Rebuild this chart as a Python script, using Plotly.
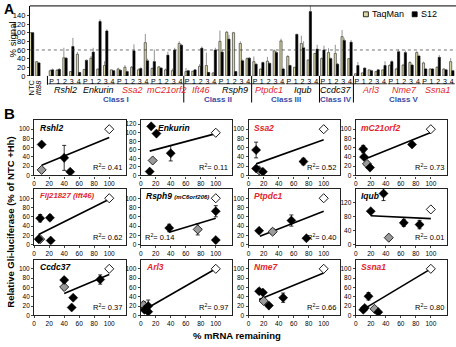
import plotly.graph_objects as go

W, H = 456, 347
def fx(p): return p / W
def fy(p): return 1 - p / H

FONT = "Liberation Sans, Arial, Helvetica, sans-serif"
RED = "#e3262c"
BLUE = "#3b4ca6"
TAN = "#d9d6a8"

# ---------------- Panel A data ----------------
CTRL_LABELS = ["NTC", "<i>Ift88</i>"]
CTRL_TAQMAN = [100, 33]
CTRL_S12 = [100, 30]
GENES_A = ["Rshl2", "Enkurin", "Ssa2", "mC21orf2", "Ift46", "Rsph9",
           "Ptpdc1", "Iqub", "Ccdc37", "Arl3", "Nme7", "Ssna1"]
GENE_IS_RED = [False, False, True, True, True, False, True, False, False, True, True, True]
SUBS = ["P", "1", "2", "3", "4"]
TAQMAN = [[12, 13, 42, 10, 50], [15, 41, 16, 24, 14], [16, 20, 20, 14, 77],
          [17, 21, 14, 12, 75], [10, 11, 22, 24, 7], [80, 101, 100, 75, 40],
          [33, 16, 34, 58, 81], [45, 20, 75, 37, 52], [40, 54, 52, 91, 40],
          [5, 7, 14, 10, 14], [24, 16, 25, 31, 54], [30, 16, 20, 16, 33]]
TAQMAN_ERR = [[3, 3, 23, 0, 5], [0, 5, 0, 10, 0], [3, 5, 3, 3, 20],
              [3, 2, 3, 5, 5], [8, 0, 5, 30, 0], [25, 3, 2, 5, 3],
              [12, 0, 10, 3, 5], [3, 0, 18, 0, 0], [3, 10, 20, 15, 0],
              [0, 0, 0, 0, 0], [3, 3, 3, 3, 3], [3, 2, 2, 2, 8]]
S12 = [[14, 15, 41, 68, 8], [36, 55, 126, 104, 12], [13, 10, 58, 17, 35],
       [33, 18, 48, 60, 71], [12, 14, 64, 8, 60], [55, 85, 10, 35, 41],
       [27, 31, 29, 54, 16], [24, 96, 65, 149, 62], [60, 40, 27, 82, 78],
       [24, 18, 12, 14, 24], [33, 56, 54, 25, 46], [16, 16, 43, 14, 12]]
S12_ERR = [[3, 3, 3, 20, 0], [2, 10, 5, 4, 2], [2, 2, 15, 3, 5],
           [28, 2, 8, 5, 3], [2, 2, 4, 0, 5], [5, 10, 0, 3, 3],
           [2, 2, 2, 3, 3], [2, 2, 15, 25, 10], [10, 3, 3, 5, 5],
           [8, 2, 2, 2, 10], [3, 5, 5, 3, 3], [2, 2, 5, 2, 2]]
CLASSES = ["Class I", "Class II", "Class III", "Class IV", "Class V"]
CLASS_FIRST_GENE = [0, 4, 6, 8, 9]
CLASS_LAST_GENE = [3, 5, 7, 8, 11]
THRESHOLD = 60
LEGEND_NAMES = ["TaqMan", "S12"]

# ---------------- Panel B data ----------------
B_TITLES = ["Rshl2", "Enkurin", "Ssa2", "mC21orf2",
            "Flj21827 (Ift46)", "Rsph9", "Ptpdc1", "Iqub",
            "Ccdc37", "Arl3", "Nme7", "Ssna1"]
B_RED = [False, False, True, True, True, False, True, False, False, True, True, True]
B_BLACK_X = [[10, 40, 48], [14, 21, 40, 12], [10, 10, 19, 73], [10, 11, 19, 75],
             [8, 21, 22, 6], [38, 100, 100], [14, 57, 77], [20, 37, 64, 85],
             [40, 50, 52, 88], [5, 10, 10], [14, 19, 27, 46], [10, 12, 17, 30]]
B_BLACK_Y = [[67, 38, 8], [115, 98, 52, 9], [55, 15, 8, 30], [57, 40, 17, 67],
             [57, 58, 9, 12], [36, 72, 10], [30, 52, 14], [95, 145, 62, 57],
             [76, 17, 38, 77], [12, 8, 20], [52, 49, 21, 38], [12, 16, 41, 7]]
B_BLACK_ERR = [[0, 27, 0], [0, 0, 18, 0], [17, 0, 0, 7], [8, 0, 0, 0],
               [8, 6, 0, 0], [8, 12, 0], [0, 12, 0], [0, 20, 10, 12],
               [5, 0, 0, 10], [0, 0, 13], [5, 0, 0, 10], [0, 0, 8, 0]]
B_GRAY_X = [[10], [16], [14], [15], [8], [76], [32], [44], [40], [4], [20], [25]]
B_GRAY_Y = [[12], [35], [11], [25], [12], [33], [28], [20], [61], [22], [31], [14]]
B_GRAY_ERR = [[4], [0], [0], [0], [0], [12], [6], [0], [6], [8], [0], [0]]
B_FIT_X = [[10, 100], [12, 100], [10, 100], [10, 100], [6, 100], [38, 100],
           [15, 100], [20, 100], [40, 100], [5, 100], [14, 100], [10, 100]]
B_FIT_Y = [[22, 82], [57, 98], [25, 77], [34, 93], [22, 98], [27, 57],
           [18, 72], [82, 74], [47, 88], [12, 100], [34, 91], [13, 100]]
B_R2 = ["0.41", "0.11", "0.52", "0.73", "0.62", "0.14",
        "0.40", "0.01", "0.37", "0.97", "0.66", "0.80"]
REF_X, REF_Y = 100, 100

fig = go.Figure()

# ---------------- Panel A ----------------
ctrl_pos = [-2.93, -2.0]
xs = list(ctrl_pos)
taq_vals = list(CTRL_TAQMAN)
taq_err = [0, 0]
s12_vals = list(CTRL_S12)
s12_err = [0, 0]
for g in range(len(GENES_A)):
    for s in range(5):
        xs.append(5 * g + s)
        taq_vals.append(TAQMAN[g][s])
        taq_err.append(TAQMAN_ERR[g][s])
        s12_vals.append(S12[g][s])
        s12_err.append(S12_ERR[g][s])

fig.add_trace(go.Bar(x=xs, y=taq_vals, name=LEGEND_NAMES[0], width=0.32, offset=-0.33,
                     marker=dict(color=TAN, line=dict(color="#222", width=0.6)),
                     error_y=dict(type="data", array=taq_err, arrayminus=[0] * len(taq_err),
                                  symmetric=False, color="#777", thickness=0.8, width=0),
                     showlegend=False, xaxis="x", yaxis="y"))
fig.add_trace(go.Bar(x=xs, y=s12_vals, name=LEGEND_NAMES[1], width=0.32, offset=0.0,
                     marker=dict(color="#000", line=dict(color="#000", width=0.6)),
                     error_y=dict(type="data", array=s12_err, arrayminus=[0] * len(s12_err),
                                  symmetric=False, color="#777", thickness=0.8, width=0),
                     showlegend=False, xaxis="x", yaxis="y"))

tickvals = [5 * g + s for g in range(len(GENES_A)) for s in range(5)]
ticktext = [SUBS[s] for g in range(len(GENES_A)) for s in range(5)]

layout = dict(
    width=W, height=H, margin=dict(l=0, r=0, t=0, b=0),
    paper_bgcolor="white", plot_bgcolor="white",
    font=dict(family=FONT, color="#000"),
    barmode="overlay",
    showlegend=False,
    xaxis=dict(domain=[fx(28), 1], range=[-3.18, 59.62], tickvals=tickvals, ticktext=ticktext,
               tickangle=0, tickfont=dict(size=7), ticks="", showline=False, showgrid=False,
               zeroline=False, fixedrange=True),
    yaxis=dict(domain=[fy(77), fy(6)], range=[0, 162], tickvals=list(range(0, 141, 20)),
               tickfont=dict(size=7.5), ticks="outside", ticklen=2, showline=True,
               linecolor="#000", linewidth=1, showgrid=False, zeroline=False),
)

shapes = []
annotations = []
# top border and threshold line
shapes.append(dict(type="line", xref="paper", yref="paper", x0=fx(28), x1=1, y0=fy(6), y1=fy(6),
                   line=dict(color="#000", width=1)))
shapes.append(dict(type="line", xref="x domain", yref="y", x0=0, x1=1, y0=THRESHOLD, y1=THRESHOLD,
                   line=dict(color="#333", width=0.7, dash="dot")))
# legend (small key)
leg_cols = [TAN, "#000"]
leg_x = [363, 412]
for j, nm in enumerate(LEGEND_NAMES):
    shapes.append(dict(type="rect", xref="paper", yref="paper", x0=fx(leg_x[j]), x1=fx(leg_x[j] + 5),
                       y0=fy(17), y1=fy(12), fillcolor=leg_cols[j], line=dict(color="#000", width=0.8)))
    annotations.append(dict(x=fx(leg_x[j] + 6.5), y=fy(14.5), xref="paper", yref="paper", text=nm,
                            showarrow=False, font=dict(size=9), xanchor="left", yanchor="middle"))
# separator after controls
shapes.append(dict(type="line", xref="x", yref="paper", x0=-0.59, x1=-0.59, y0=fy(77), y1=fy(86),
                   line=dict(color="#000", width=1)))
# underlines per gene
for g in range(len(GENES_A)):
    shapes.append(dict(type="line", xref="x", yref="paper", x0=5 * g - 0.45, x1=5 * g + 4.45,
                       y0=fy(85), y1=fy(85), line=dict(color="#000", width=0.8)))
    annotations.append(dict(x=5 * g + 2, y=fy(91), xref="x", yref="paper",
                            text="<i>%s</i>" % GENES_A[g], showarrow=False,
                            font=dict(size=9, color=RED if GENE_IS_RED[g] else "#000"),
                            xanchor="center", yanchor="middle"))
# class separators and labels
for c in range(len(CLASSES)):
    if c > 0:
        xb = 5 * CLASS_FIRST_GENE[c] - 0.5
        shapes.append(dict(type="line", xref="x", yref="paper", x0=xb, x1=xb, y0=fy(77), y1=fy(104),
                           line=dict(color="#000", width=1)))
    xc = (5 * CLASS_FIRST_GENE[c] + 5 * CLASS_LAST_GENE[c] + 4) / 2
    annotations.append(dict(x=xc, y=fy(101), xref="x", yref="paper", text="<b>%s</b>" % CLASSES[c],
                            showarrow=False, font=dict(size=8, color=BLUE),
                            xanchor="center", yanchor="middle"))
# control labels (rotated)
for i, lab in enumerate(CTRL_LABELS):
    annotations.append(dict(x=ctrl_pos[i], y=fy(79), xref="x", yref="paper", text=lab,
                            showarrow=False, textangle=-90, font=dict(size=7.5),
                            xanchor="center", yanchor="top"))
# y title of A
annotations.append(dict(x=fx(10), y=fy(40), xref="paper", yref="paper", text="% signal",
                        showarrow=False, textangle=-90, font=dict(size=9.5),
                        xanchor="center", yanchor="middle"))
# panel letters
annotations.append(dict(x=fx(0), y=fy(-1), xref="paper", yref="paper", text="<b>A</b>",
                        showarrow=False, font=dict(size=14), xanchor="left", yanchor="top"))
annotations.append(dict(x=fx(0), y=fy(105), xref="paper", yref="paper", text="<b>B</b>",
                        showarrow=False, font=dict(size=15), xanchor="left", yanchor="top"))

# ---------------- Panel B ----------------
COL_L = [32.3, 139.3, 247.7, 355.3]
ROW_T = [121.7, 191.7, 263.3]
ROW_B = [178.0, 248.3, 320.0]
PW = 92
for i in range(12):
    r, c = divmod(i, 4)
    n = i + 2
    xa, ya = "x%d" % n, "y%d" % n
    ymax = 120
    ytv = list(range(0, 101, 20))
    if B_TITLES[i] == "Enkurin":
        ymax, ytv = 130, list(range(0, 121, 20))
    if B_TITLES[i] == "Iqub":
        ymax, ytv = 158, [0, 40, 80, 120]
    layout["xaxis%d" % n] = dict(domain=[fx(COL_L[c]), fx(COL_L[c] + PW)], range=[0, 122],
                                 tickvals=list(range(0, 101, 20)), tickfont=dict(size=6.5),
                                 ticks="outside", ticklen=2, showline=True, mirror=True,
                                 linecolor="#222", linewidth=1.2, showgrid=False, zeroline=False,
                                 anchor=ya)
    layout["yaxis%d" % n] = dict(domain=[fy(ROW_B[r]), fy(ROW_T[r])], range=[0, ymax],
                                 tickvals=ytv, tickfont=dict(size=6.5),
                                 ticks="outside", ticklen=2, showline=True, mirror=True,
                                 linecolor="#222", linewidth=1.2, showgrid=False, zeroline=False,
                                 anchor=xa)
    fig.add_trace(go.Scatter(x=B_FIT_X[i], y=B_FIT_Y[i], mode="lines",
                             line=dict(color="#000", width=1.6), showlegend=False,
                             xaxis=xa, yaxis=ya))
    fig.add_trace(go.Scatter(x=B_GRAY_X[i], y=B_GRAY_Y[i], mode="markers",
                             marker=dict(symbol="diamond", size=7, color="#9a9a9a",
                                         line=dict(color="#000", width=0.8)),
                             error_y=dict(type="data", array=B_GRAY_ERR[i], color="#000",
                                          thickness=0.8, width=2),
                             showlegend=False, xaxis=xa, yaxis=ya))
    fig.add_trace(go.Scatter(x=B_BLACK_X[i], y=B_BLACK_Y[i], mode="markers",
                             marker=dict(symbol="diamond", size=7, color="#000",
                                         line=dict(color="#000", width=0.5)),
                             error_y=dict(type="data", array=B_BLACK_ERR[i], color="#000",
                                          thickness=0.8, width=2),
                             showlegend=False, xaxis=xa, yaxis=ya))
    fig.add_trace(go.Scatter(x=[REF_X], y=[REF_Y], mode="markers",
                             marker=dict(symbol="diamond", size=7, color="#fff",
                                         line=dict(color="#000", width=0.9)),
                             showlegend=False, xaxis=xa, yaxis=ya))
    t = B_TITLES[i]
    col = RED if B_RED[i] else "#000"
    fs = 8.5
    if t == "Rsph9":
        txt = "<b><i>Rsph9</i></b> <span style='font-size:6px'><b><i>(mC6orf206)</i></b></span>"
    else:
        txt = "<b><i>%s</i></b>" % t
    if t.startswith("Flj"):
        fs = 7.8
    tx = 0.17 if t == "Enkurin" else 0.04
    annotations.append(dict(x=tx, y=0.99, xref="%s domain" % xa, yref="%s domain" % ya, text=txt,
                            showarrow=False, font=dict(size=fs, color=col),
                            xanchor="left", yanchor="top"))
    if t == "Rsph9":
        annotations.append(dict(x=0.03, y=0.02, xref="%s domain" % xa, yref="%s domain" % ya,
                                text="R<sup>2</sup>= %s" % B_R2[i], showarrow=False,
                                font=dict(size=7.5), xanchor="left", yanchor="bottom"))
    else:
        annotations.append(dict(x=0.98, y=0.02, xref="%s domain" % xa, yref="%s domain" % ya,
                                text="R<sup>2</sup>= %s" % B_R2[i], showarrow=False,
                                font=dict(size=7.5), xanchor="right", yanchor="bottom"))

annotations.append(dict(x=fx(9), y=fy(225), xref="paper", yref="paper",
                        text="<b>Relative Gli-luciferase (% of NTC +Hh)</b>", showarrow=False,
                        textangle=-90, font=dict(size=9.5), xanchor="center", yanchor="middle"))
annotations.append(dict(x=fx(236), y=fy(340), xref="paper", yref="paper",
                        text="<b>% mRNA remaining</b>", showarrow=False,
                        font=dict(size=9.5), xanchor="center", yanchor="middle"))

layout["shapes"] = shapes
layout["annotations"] = annotations
fig.update_layout(**layout)
fig.write_html("out.html")
